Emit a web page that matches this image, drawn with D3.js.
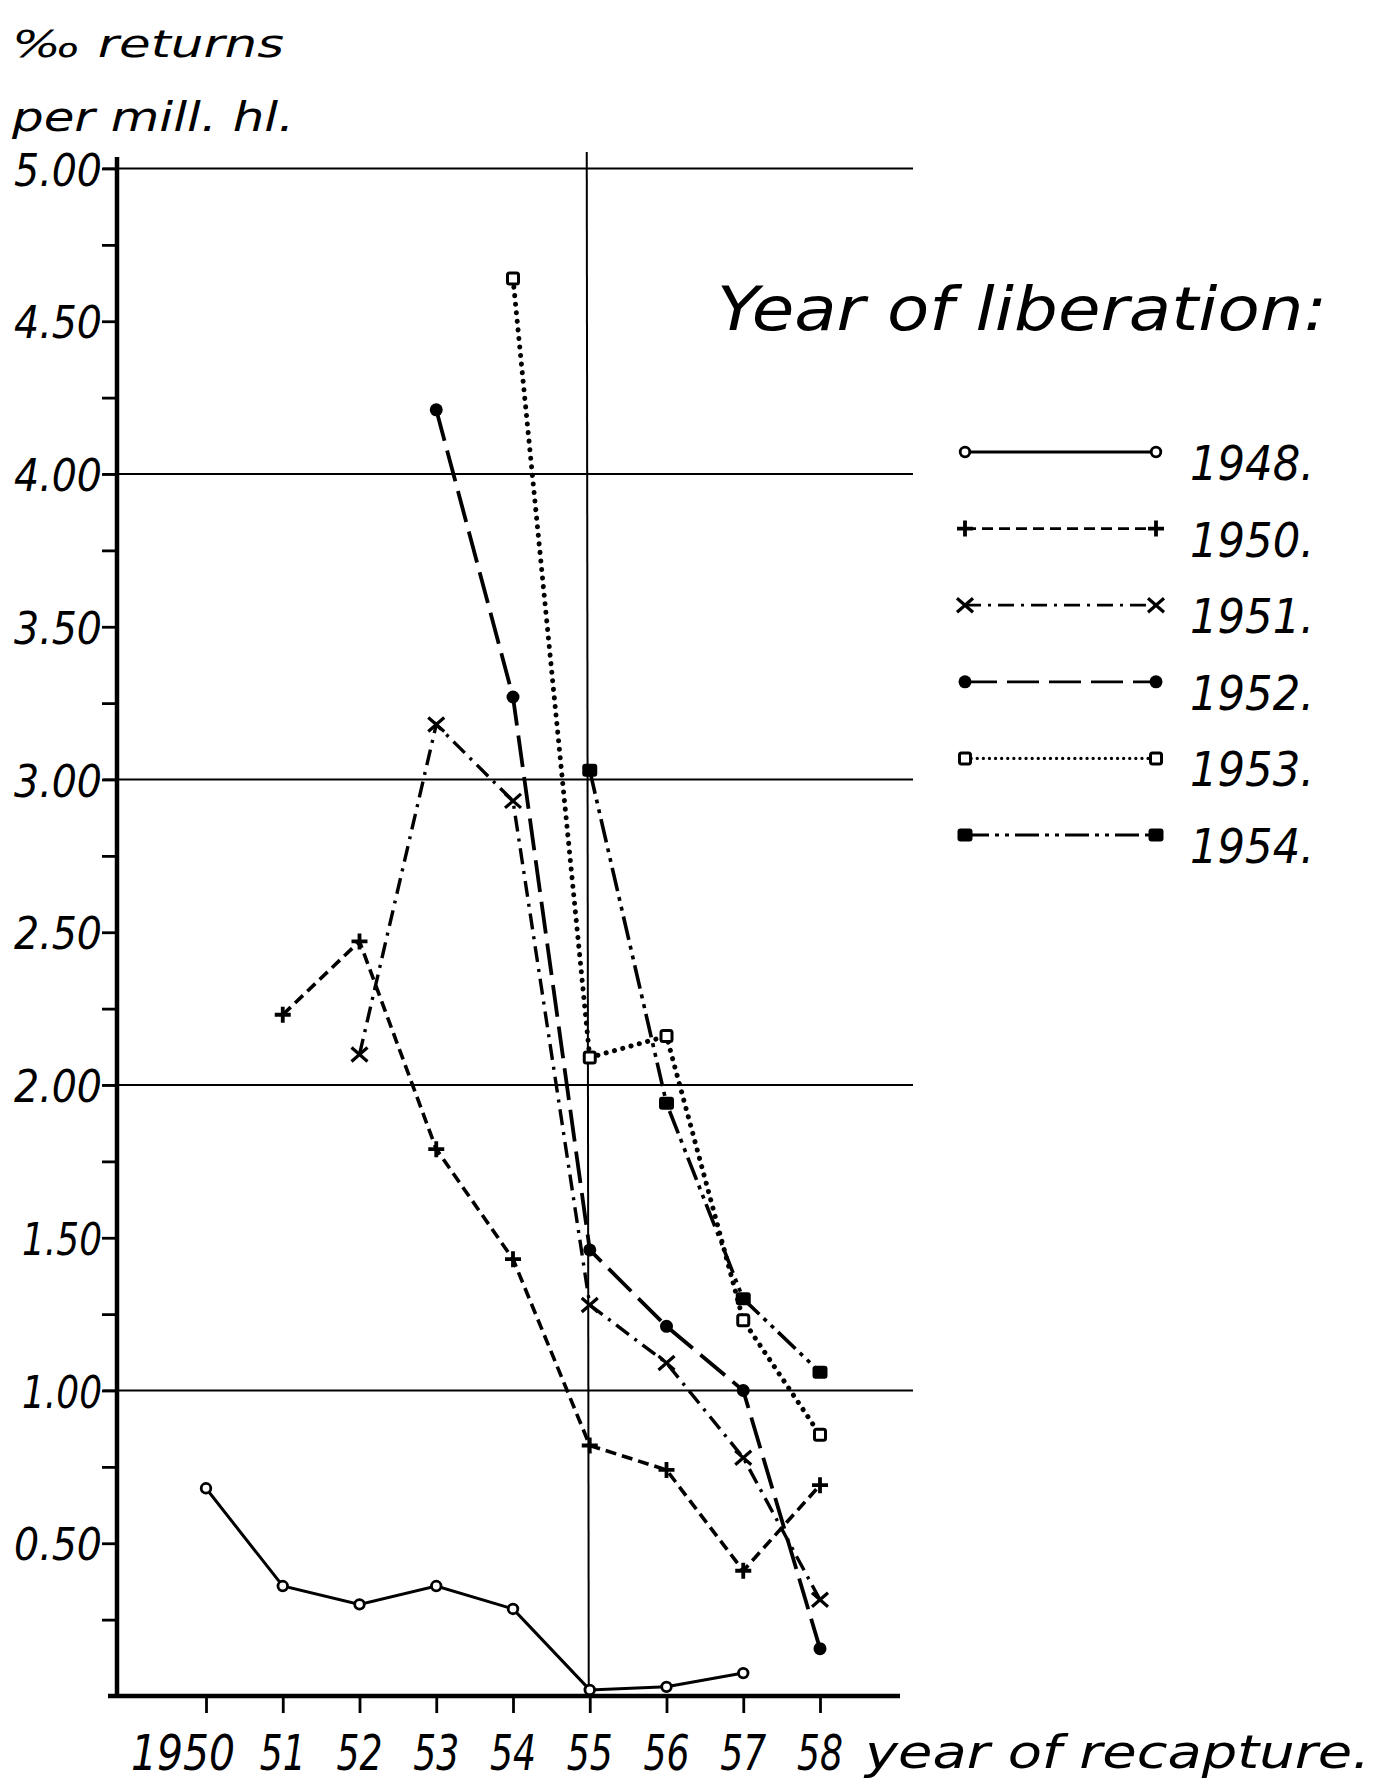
<!DOCTYPE html>
<html>
<head>
<meta charset="utf-8">
<script src="https://cdn.jsdelivr.net/npm/d3@7"></script>
<style>
  html, body { margin: 0; padding: 0; background: #fff; }
  svg { display: block; }
  text { font-family: "DejaVu Sans", sans-serif; font-style: oblique; fill: #000; }
</style>
</head>
<body>
<svg id="chart" width="1397" height="1785"></svg>
<script>
// ---- data ----
const recaptureYears = [1950, 1951, 1952, 1953, 1954, 1955, 1956, 1957, 1958];
const xTickLabels = ["1950", "51", "52", "53", "54", "55", "56", "57", "58"];
const yTickValues = [0.5, 1.0, 1.5, 2.0, 2.5, 3.0, 3.5, 4.0, 4.5, 5.0];
const yTickLabels = ["0.50", "1.00", "1.50", "2.00", "2.50", "3.00", "3.50", "4.00", "4.50", "5.00"];
const gridValues = [1, 2, 3, 4, 5];
const liberationYears = ["1948.", "1950.", "1951.", "1952.", "1953.", "1954."];

const lib1948 = [0.68, 0.36, 0.30, 0.36, 0.285, 0.02, 0.03, 0.075, null];
const lib1950 = [null, 2.23, 2.47, 1.79, 1.43, 0.82, 0.74, 0.41, 0.69];
const lib1951 = [null, null, 2.10, 3.18, 2.93, 1.28, 1.09, 0.78, 0.315];
const lib1952 = [null, null, null, 4.21, 3.27, 1.46, 1.21, 1.00, 0.155];
const lib1953 = [null, null, null, null, 4.64, 2.09, 2.16, 1.23, 0.855];
const lib1954 = [null, null, null, null, null, 3.03, 1.94, 1.30, 1.06];

// ---- styles (not data) ----
const seriesStyles = [
  { values: lib1948, dash: null,                 width: 3.0, marker: "circleOpen" },
  { values: lib1950, dash: "11,6",               width: 3.6, marker: "plus" },
  { values: lib1951, dash: "16,7,3,7",           width: 3.4, marker: "cross" },
  { values: lib1952, dash: "32,10",              width: 3.8, marker: "circleFilled" },
  { values: lib1953, dash: "0.1,8.5",            width: 5.0, marker: "squareOpen", cap: "round" },
  { values: lib1954, dash: "24,6,4,6,4,6",       width: 3.6, marker: "squareFilled" }
];

const svg = d3.select("#chart");
const x = d3.scaleLinear().domain([1950, 1958]).range([206, 820]);
const y = d3.scaleLinear().domain([0, 5]).range([1696, 168.5]);

const axisX = 117;

// gridlines
svg.append("g").selectAll("line").data(gridValues).join("line")
  .attr("x1", axisX - 14).attr("x2", 913)
  .attr("y1", d => y(d)).attr("y2", d => y(d))
  .attr("stroke", "#000").attr("stroke-width", 2);

// vertical line at 1955
svg.append("line")
  .attr("x1", x(1955) - 3).attr("x2", x(1955) - 1)
  .attr("y1", 152).attr("y2", y(0))
  .attr("stroke", "#000").attr("stroke-width", 2);

// y axis with d3 axis (ticks left)
const yAxis = d3.axisLeft(y).tickValues(d3.range(0.25, 5.01, 0.25)).tickSize(15).tickFormat("");
const gy = svg.append("g").attr("transform", `translate(${axisX},0)`).call(yAxis);
gy.select(".domain").remove();
gy.selectAll(".tick line").attr("stroke", "#000").attr("stroke-width", 2.8);
svg.append("line").attr("x1", axisX).attr("x2", axisX).attr("y1", 157).attr("y2", 1698)
  .attr("stroke", "#000").attr("stroke-width", 4.5);

// y tick labels
svg.append("g").selectAll("text").data(yTickValues).join("text")
  .attr("x", axisX - 15).attr("y", d => y(d) + 17)
  .attr("text-anchor", "end")
  .attr("font-size", 44)
  .attr("textLength", (d, i) => yTickLabels[i].startsWith("1") ? 80 : 88)
  .attr("lengthAdjust", "spacingAndGlyphs")
  .text((d, i) => yTickLabels[i]);

// x axis
const xAxis = d3.axisBottom(x).tickValues(recaptureYears).tickSize(17).tickFormat("");
const gx = svg.append("g").attr("transform", `translate(0,${y(0)})`).call(xAxis);
gx.select(".domain").remove();
gx.selectAll(".tick line").attr("stroke", "#000").attr("stroke-width", 2.8);
svg.append("line").attr("x1", 108).attr("x2", 900).attr("y1", y(0)).attr("y2", y(0))
  .attr("stroke", "#000").attr("stroke-width", 4.5);

// x tick labels
svg.append("g").selectAll("text").data(recaptureYears).join("text")
  .attr("x", (d, i) => i === 0 ? x(d) + 29 : x(d))
  .attr("y", 1770)
  .attr("text-anchor", (d, i) => i === 0 ? "end" : "middle")
  .attr("font-size", 50)
  .attr("textLength", (d, i) => i === 0 ? 104 : 46)
  .attr("lengthAdjust", "spacingAndGlyphs")
  .text((d, i) => xTickLabels[i]);

svg.append("text").attr("x", 865).attr("y", 1768).attr("font-size", 46)
  .attr("textLength", 505).attr("lengthAdjust", "spacingAndGlyphs")
  .text("year of recapture.");

// y title
svg.append("text").attr("x", 12).attr("y", 57).attr("font-size", 38)
  .attr("textLength", 272).attr("lengthAdjust", "spacingAndGlyphs")
  .text("‰ returns");
svg.append("text").attr("x", 12).attr("y", 131).attr("font-size", 40)
  .attr("textLength", 282).attr("lengthAdjust", "spacingAndGlyphs")
  .text("per mill. hl.");

// marker drawing
function drawMarker(g, type, cx, cy) {
  switch (type) {
    case "circleOpen":
      g.append("circle").attr("cx", cx).attr("cy", cy).attr("r", 4.8)
        .attr("fill", "#fff").attr("stroke", "#000").attr("stroke-width", 2.8);
      break;
    case "plus":
      g.append("path").attr("d", `M${cx-8},${cy}H${cx+8}M${cx},${cy-8}V${cy+8}`)
        .attr("stroke", "#000").attr("stroke-width", 3.8).attr("fill", "none");
      break;
    case "cross":
      g.append("path").attr("d", `M${cx-8},${cy-7}L${cx+8},${cy+7}M${cx-8},${cy+7}L${cx+8},${cy-7}`)
        .attr("stroke", "#000").attr("stroke-width", 3.2).attr("fill", "none");
      break;
    case "circleFilled":
      g.append("circle").attr("cx", cx).attr("cy", cy).attr("r", 6.5)
        .attr("fill", "#000");
      break;
    case "squareOpen":
      g.append("rect").attr("x", cx - 5.5).attr("y", cy - 5.5).attr("width", 11).attr("height", 11)
        .attr("rx", 2)
        .attr("fill", "#fff").attr("stroke", "#000").attr("stroke-width", 3);
      break;
    case "squareFilled":
      g.append("rect").attr("x", cx - 7.5).attr("y", cy - 6.5).attr("width", 15).attr("height", 13)
        .attr("rx", 3).attr("fill", "#000");
      break;
  }
}

// series
const line = d3.line()
  .defined(d => d.v !== null)
  .x(d => x(d.year))
  .y(d => y(d.v));

seriesStyles.forEach(s => {
  const pts = recaptureYears.map((yr, i) => ({ year: yr, v: s.values[i] }));
  svg.append("path")
    .datum(pts)
    .attr("d", line)
    .attr("fill", "none")
    .attr("stroke", "#000")
    .attr("stroke-width", s.width)
    .attr("stroke-linecap", s.cap || "butt")
    .attr("stroke-dasharray", s.dash);
});
seriesStyles.forEach(s => {
  const g = svg.append("g");
  recaptureYears.forEach((yr, i) => {
    if (s.values[i] !== null) drawMarker(g, s.marker, x(yr), y(s.values[i]));
  });
});

// legend
svg.append("text").attr("x", 717).attr("y", 330).attr("font-size", 60)
  .attr("textLength", 610).attr("lengthAdjust", "spacingAndGlyphs")
  .text("Year of liberation:");

const legendY = d3.scaleLinear().domain([0, 5]).range([452, 835]);
const lg = svg.append("g");
seriesStyles.forEach((s, i) => {
  const ly = legendY(i);
  lg.append("line").attr("x1", 965).attr("x2", 1156).attr("y1", ly).attr("y2", ly)
    .attr("stroke", "#000").attr("stroke-width", s.cap === "round" ? 3.2 : 2.8)
    .attr("stroke-linecap", s.cap || "butt")
    .attr("stroke-dasharray", s.cap === "round" ? "0.1,6" : s.dash);
  drawMarker(lg, s.marker, 965, ly);
  drawMarker(lg, s.marker, 1156, ly);
  lg.append("text").attr("x", 1190).attr("y", ly + 28).attr("font-size", 48)
    .attr("textLength", 124).attr("lengthAdjust", "spacingAndGlyphs")
    .text(liberationYears[i]);
});
</script>
</body>
</html>
